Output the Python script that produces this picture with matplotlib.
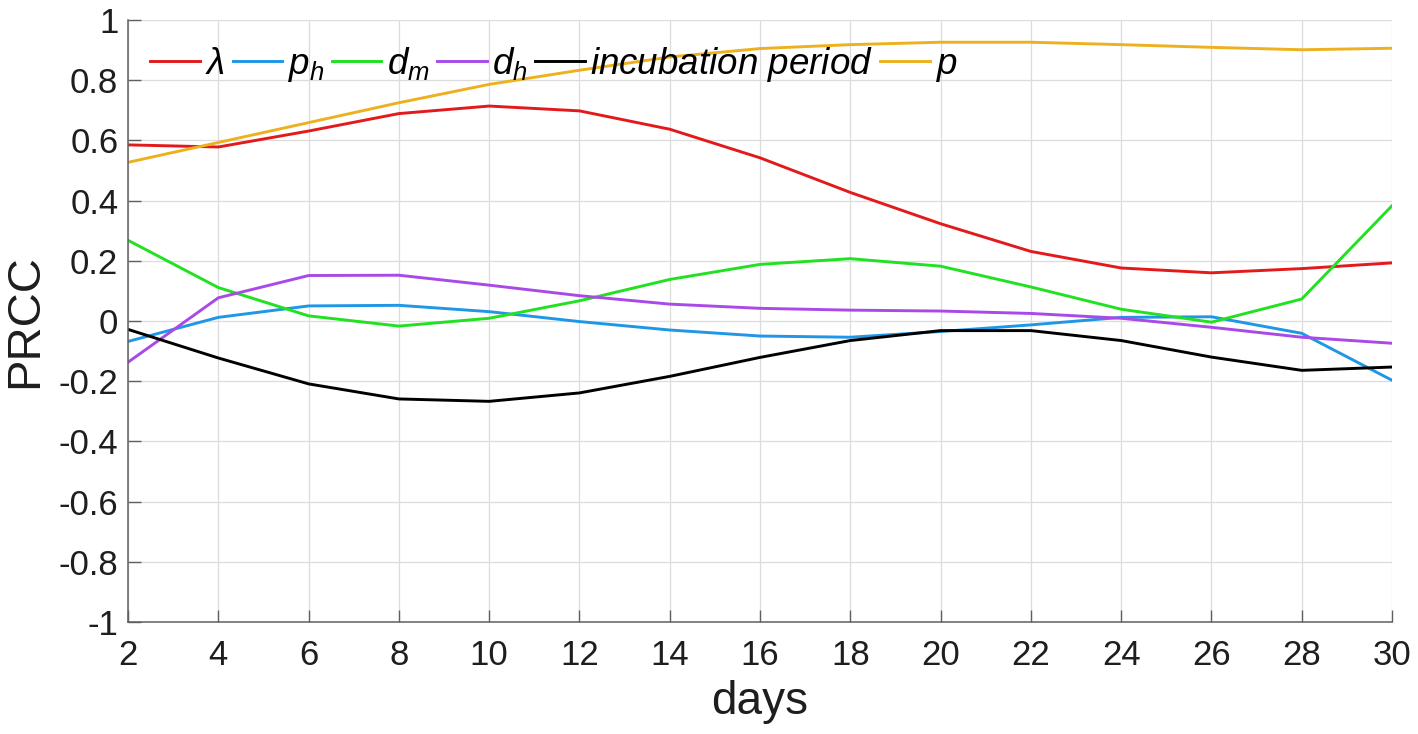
import matplotlib
matplotlib.use("Agg")
import matplotlib.pyplot as plt

plt.rcParams['font.family'] = ['Liberation Sans', 'DejaVu Sans']
plt.rcParams['mathtext.fontset'] = 'custom'
plt.rcParams['mathtext.rm'] = 'Liberation Sans'
plt.rcParams['mathtext.it'] = 'Liberation Sans:italic'
plt.rcParams['mathtext.bf'] = 'Liberation Sans:bold'

days = [2, 4, 6, 8, 10, 12, 14, 16, 18, 20, 22, 24, 26, 28, 30]
lam = [0.585, 0.578, 0.631, 0.689, 0.714, 0.698, 0.637, 0.542, 0.427, 0.323, 0.231, 0.176, 0.160, 0.174, 0.193]
p_h = [-0.068, 0.012, 0.050, 0.052, 0.031, -0.002, -0.030, -0.050, -0.054, -0.035, -0.013, 0.012, 0.014, -0.041, -0.197]
d_m = [0.268, 0.111, 0.017, -0.017, 0.009, 0.067, 0.138, 0.188, 0.207, 0.182, 0.113, 0.039, -0.004, 0.073, 0.383]
d_h = [-0.137, 0.077, 0.151, 0.152, 0.119, 0.084, 0.056, 0.042, 0.036, 0.033, 0.025, 0.009, -0.021, -0.054, -0.074]
incub = [-0.028, -0.123, -0.209, -0.259, -0.267, -0.239, -0.184, -0.121, -0.065, -0.032, -0.032, -0.065, -0.120, -0.164, -0.153]
p = [0.527, 0.593, 0.659, 0.725, 0.786, 0.833, 0.877, 0.905, 0.918, 0.926, 0.926, 0.918, 0.909, 0.901, 0.906]

labels = [r'$\lambda$', r'$p_h$', r'$d_m$', r'$d_h$', r'$incubation\ period$', r'$p$']
colors = ['#E31A1C', '#1F97E6', '#22E022', '#A94AE8', '#000000', '#EDB120']
series = [lam, p_h, d_m, d_h, incub, p]

fig = plt.figure(figsize=(14.18, 7.34), dpi=100)
ax = fig.add_axes([0.0903, 0.1526, 0.8914, 0.8202])

for vals, c, lab in zip(series, colors, labels):
    ax.plot(days, vals, color=c, lw=2.1, label=lab)

ax.set_xlim(2, 30)
ax.set_ylim(-1, 1)
ax.set_xticks(range(2, 31, 2))
ax.set_yticks([-1, -0.8, -0.6, -0.4, -0.2, 0, 0.2, 0.4, 0.6, 0.8, 1])
ax.set_yticklabels(['-1', '-0.8', '-0.6', '-0.4', '-0.2', '0', '0.2', '0.4', '0.6', '0.8', '1'])
ax.grid(True, color='#DCDCDC', lw=0.9)
ax.set_axisbelow(True)
for s in ['top', 'right']:
    ax.spines[s].set_visible(False)
for s in ['left', 'bottom']:
    ax.spines[s].set_color('#606060')
    ax.spines[s].set_linewidth(1.1)
ax.tick_params(axis='both', direction='in', length=9, width=1.0, color='#606060',
               labelsize=25, labelcolor='#1E1E1E')
ax.tick_params(axis='x', pad=12)
ax.tick_params(axis='y', pad=7)

ax.set_xlabel('days', fontsize=33, color='#1E1E1E', labelpad=6)
ax.set_ylabel('PRCC', fontsize=34, color='#1E1E1E', labelpad=8)

leg = ax.legend(loc='upper left', bbox_to_anchor=(0.0, 0.995), ncol=6, frameon=False,
                fontsize=26.5, handlelength=1.35, handletextpad=0.15, columnspacing=0.2,
                borderaxespad=0.2)

fig.savefig('out.png', dpi=100)
